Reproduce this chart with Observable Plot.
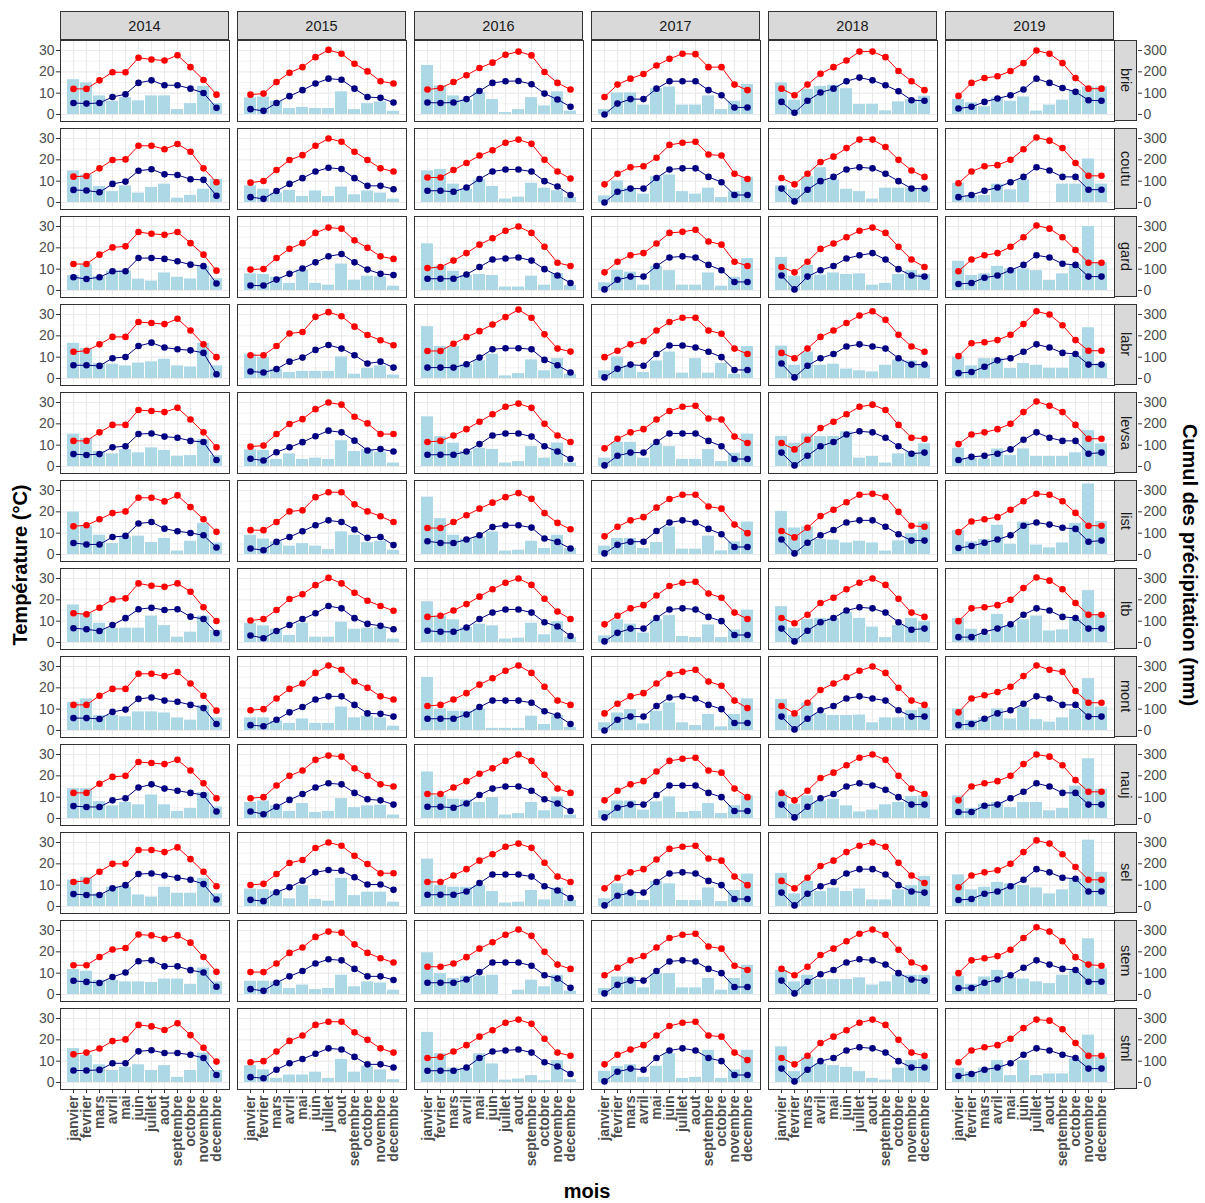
<!DOCTYPE html>
<html><head><meta charset="utf-8">
<script src="https://cdn.jsdelivr.net/npm/d3@7"></script>
<script src="https://cdn.jsdelivr.net/npm/@observablehq/plot@0.6"></script>
<style>
body{margin:0;background:#fff;font-family:"Liberation Sans",Arial,sans-serif;}
#chart{position:relative;width:1205px;height:1203px;background:#fff;overflow:hidden;}
.strip{position:absolute;box-sizing:border-box;background:#d9d9d9;border:1px solid #333;color:#1a1a1a;font-size:14.5px;display:flex;align-items:center;justify-content:center;}
.vstrip{writing-mode:vertical-rl;}
.title{position:absolute;font-weight:bold;font-size:20px;color:#000;white-space:nowrap;}
svg{position:absolute;overflow:visible;}
</style></head><body><div id="chart"></div>
<script>
const years = [2014, 2015, 2016, 2017, 2018, 2019];
const stations = ["brie","coutu","gard","labr","levsa","list","ltb","mont","nauj","sel","stem","stml"];
const months = ["janvier","fevrier","mars","avril","mai","juin","juillet","aout","septembre","octobre","novembre","decembre"];

// Each array: one row per year (2014..2019), 12 monthly values
const brie_tmax = [
[12,12,16,19.8,19.8,26.6,25.8,25.3,27.8,22.2,16.2,9.3],
[9.3,9.8,15.2,19.6,22.2,26.9,30.3,28.5,23.8,20.2,15.6,14.5],
[11.7,12.4,15.2,18.4,21.8,24.3,28,29.5,27.7,19.9,14.8,11.7],
[8.2,14,16.8,19,23,26.1,28.5,28.3,22.2,22.2,14,11.4],
[12.1,9,14,19.1,22.2,25.3,29.5,29.5,26.9,20.4,15.6,11.4],
[8.7,14.8,17.1,17.9,20.4,24.1,30,28.5,24.1,17.1,12.1,12.1]];
const brie_tmin = [
[5.4,5.1,5.4,8.2,9.5,14.8,16,13.7,13.7,12.1,10.1,3.1],
[2.5,1.7,5.4,8.6,11.4,14.5,16.8,16.3,12.1,8.2,7.8,5.6],
[5.6,5.4,5.6,7.2,11,14.8,15.6,15.7,14.2,9.8,7,3.6],
[0,5.1,7.2,7.2,12.1,15.6,15.6,15.6,11.4,9,3.3,3.3],
[5.9,0.8,6.4,10.3,12.1,15.6,17.3,16,13.7,10.9,6.7,6.4],
[2.8,3.6,5.9,7.5,9,11.7,16.8,14.8,12.4,10.6,6.7,6.4]];
const brie_precip = [
[163,148,87,62,79,64,87,87,23,51,132,51],
[78,82,62,28,33,28,28,106,23,51,59,15],
[230,134,87,67,103,70,9,23,79,40,106,16],
[23,101,101,44,121,129,44,44,87,23,62,141],
[148,67,118,132,137,121,47,48,17,59,70,86],
[70,55,36,78,62,82,16,44,67,113,129,129]];

const coutu_tmax = [
[12.1,12.4,16,19.9,20.2,26.6,26.6,25,27.4,23.8,16,9.5],
[9.3,10.1,15.2,19.9,22.2,26.6,30,28.5,23.8,19.9,16,14.5],
[11.7,11.7,15.2,18.5,22,24.5,28,29.5,27.5,20,14.5,11.2],
[8.5,13.5,16.5,17,21,27,28,28.5,22.5,22,13.5,11],
[11.5,8.5,13.5,19,21.5,25.5,29.5,29.5,26,20,15,12],
[9,14.5,17,17.5,20,25,30.5,29,25.5,18.5,12.5,12.5]];
const coutu_tmin = [
[5.9,5.6,4.8,8.7,9.8,14.9,15.6,13.2,12.9,10.9,10.6,3.1],
[2.5,1.7,5.4,8.7,11.4,14.5,16.3,15.7,11.4,7.8,7.8,6.2],
[5.5,5.5,5,7,11,14.5,15.5,15.5,14.5,10,7.5,3.5],
[0,5,6.5,6.5,11.5,15.5,16,16,12,9.5,3.5,3.5],
[6.5,0.5,6,10,12,15.5,16.5,16,13.5,10,6.5,6.5],
[2.5,3.5,5.5,7,9.5,12,16.5,15,12,12,6,6]];
const coutu_precip = [
[148,129,75,51,78,44,70,86,20,33,62,109],
[78,62,44,56,28,54,28,72,36,54,44,16],
[148,155,86,62,106,75,16,25,90,67,55,23],
[31,101,67,39,121,129,51,39,67,23,51,118],
[78,59,121,163,106,62,51,16,67,67,67,67],
[90,31,33,86,59,106,0,0,86,86,204,86]];

const gard_tmax = [
[12.4,12.4,16.8,20.2,20.7,27.4,26.6,26.1,27.4,22.2,16.8,9.3],
[9.8,10.1,15.2,19.6,22.2,27,29.5,29,23.5,20,16,14.8],
[10.5,11,14,17.5,21.5,24.5,28,30,27,20.5,13,11.5],
[8.5,13.5,16.5,17.5,22,27,27.5,28.5,23,21.5,13.5,11.5],
[11,8.5,13.5,19.5,22,25,28,29.5,27,20.5,14.5,11],
[9,14.5,16.5,17.5,20.5,25,30.5,29,25,19,13,13]];
const gard_tmin = [
[6.2,5.4,6.2,9,9,15.2,15.2,14.8,13.7,12.1,11.4,3.3],
[2.3,2.3,5.1,7.8,10.3,13.2,16,17.1,13.2,9.8,7.8,7.2],
[5.5,5.5,5.5,7.5,11,14.5,15,15.5,14,10,7,3.5],
[0.5,5,6.5,6.5,11.5,15.5,16,15.5,12,9.5,4,4],
[7,0.5,6.5,9.5,11.5,15,16.5,17.5,14.5,10,7,6.5],
[3,3.5,6,7,9.5,12,16.5,15.5,12.5,12,6.5,6.5]];
const gard_precip = [
[70,120,65,90,92,53,44,82,62,54,113,55],
[78,75,62,33,95,33,25,124,48,67,64,20],
[219,113,90,70,75,70,16,16,67,25,79,23],
[36,95,86,25,113,93,25,25,82,20,62,150],
[155,67,117,72,82,75,78,25,33,75,93,75],
[137,70,78,113,101,101,93,47,78,120,300,130]];

const labr_tmax = [
[12.5,13,16,19.5,19.5,26.5,26,25.5,28,22.5,16,10],
[10.9,10.9,15.2,21.1,21.8,28.9,31.1,29.2,24.3,20.4,17.9,15.6],
[12.9,12.9,16.3,19.4,22.2,25.3,28.8,32.3,28.5,20.7,14,12.6],
[10,13,16,17.5,22.5,26.5,28.5,28.5,22.5,21,14,11.5],
[12,9.5,14,19.5,22.5,26,29.5,31.5,27.5,20.5,15,12.5],
[10.5,16.5,17,18,20.5,25.5,31.5,30,25,18,13,13]];
const labr_tmin = [
[6.2,6.2,5.9,9.5,10.1,15.2,16.8,14.5,13.7,13.2,12,2],
[3.3,2.8,4.4,7.9,9.8,13.4,15.7,14,10.9,7,7.9,5.1],
[5.1,5.1,5.1,6.7,9.8,13.7,14.2,14.2,13.7,8.7,6.2,2.8],
[0.5,4.5,6.5,6,11.5,15.5,15.5,14.5,12.5,10,4,4],
[7,0.5,6,9.5,11.5,15,16,15,14,9.5,6.5,6.5],
[2.5,3,5.5,8.5,9.5,12.5,16,14.5,12,11.5,6.5,6.5]];
const labr_precip = [
[165,141,70,67,59,72,78,90,59,54,165,59],
[114,98,44,28,33,33,33,101,20,48,59,16],
[243,150,150,67,83,114,12,23,87,36,93,20],
[36,101,62,28,82,124,25,93,25,70,20,150],
[152,62,124,62,67,44,36,31,62,87,82,62],
[101,59,93,93,47,70,62,48,48,106,238,70]];

const levsa_tmax = [
[12,12,16,19.5,19.5,26.5,26,25.5,27.5,22,16,9],
[9.3,9.8,15.2,19.9,22.2,26.9,30,29,23.3,20.2,15.2,15.2],
[11.5,12,14.5,17.5,21,24.5,28,29.5,27.5,20,14.5,11.5],
[8.5,13,16,17.5,22,26,28,28.5,22.5,22,14,11],
[11,8,12.5,18,21,24.5,28,29,26.5,19.5,13.5,13],
[10.5,15,16,17.5,20,25.5,30.5,28.5,25.5,19.5,13,13]];
const levsa_tmin = [
[5.8,5.4,5.8,9,9.5,15.2,15.5,14,13.5,12,11.5,3],
[3.6,2.8,6.7,9,11.4,14.2,16.8,16,12.1,7.5,8.2,7],
[5.5,5.5,5.5,7,10.5,14.5,15.5,15.5,14,9.5,7,3.5],
[0.5,5,6.5,6.5,11.5,15.5,15.5,15.5,12,9.5,3.5,3.5],
[6.5,0.5,5,9.5,11.5,15,16.5,16,13.5,9.5,6,6.5],
[3,4.5,5,6,8,12.5,16,13.5,12,12,6,6.5]];
const levsa_precip = [
[152,132,70,59,79,64,87,75,48,51,126,51],
[78,75,33,59,33,39,33,121,70,79,67,16],
[233,140,109,70,86,80,16,23,93,39,110,16],
[39,113,113,39,106,93,33,33,79,23,62,152],
[141,109,152,140,141,163,39,47,16,59,67,106],
[86,36,36,82,51,82,47,47,47,64,168,106]];

const list_tmax = [
[13.2,13.7,16.5,19.4,20.2,26.6,26.6,24.9,27.7,22.2,16.5,10.6],
[11.4,11.4,15.2,20.2,20.7,26.9,29.2,29.2,23.5,20.2,17.9,15.2],
[12.4,12.4,15.2,18.4,21.5,24.3,26.9,28.8,26.1,19.4,14.8,11.8],
[8.5,13,16,17.5,22,26,28,28,22.5,21.5,14,10],
[11,8,12.5,18,21,24.5,28,28.5,27,20,13.5,13],
[10.5,15.5,16.5,17.5,21,25,28.5,28,25,19.5,13.5,13.5]];
const list_tmin = [
[5.4,4.7,4.7,8.2,8.7,14.5,15.2,12.1,10.9,10.1,9,3.3],
[2.8,2,5.9,8.2,10.9,13.7,16,15.2,11.7,7.8,8.2,4.4],
[6.2,5.4,5.4,7,9,12.9,13.7,13.7,12.6,7.5,5.9,2.8],
[0.5,4.5,6,6,11,15,16,15,12,9.5,3.5,3.5],
[7,0.5,5.5,9,11.5,15,16,16,13,9.5,6.5,6.5],
[3,4,5.5,7,9,13.5,15,14,12.5,12,6,6.5]];
const list_precip = [
[199,134,90,51,82,86,56,75,16,62,145,54],
[90,72,59,39,51,39,23,106,90,56,62,20],
[269,168,90,72,82,106,16,20,62,28,90,28],
[39,75,75,28,56,129,25,25,86,17,59,152],
[202,124,129,70,67,54,62,54,16,64,98,152],
[113,59,70,137,48,152,44,31,54,145,331,155]];

const ltb_tmax = [
[13.7,13.2,16.3,20.2,20.7,27.7,26.6,26.1,27.7,23.8,16.5,10.1],
[10.3,11,15.2,20.4,22.6,26.9,30.3,27.7,23.3,19.6,17.1,14.9],
[12,12.5,15,18,21.5,25,28,30,27,20.5,14.5,11],
[8.5,12.5,16,17.5,22,26.5,28,28.5,23,21,14,11],
[11.5,9,13,18.5,21,25,28,30,27,20.5,14,12],
[10,16,16.5,17.5,20,25.5,30.5,29,25,18.5,13,13]];
const ltb_tmin = [
[6.7,6.2,5.4,8.2,11.4,15.6,16.3,15.2,15.6,12.1,11,4.4],
[3.3,2,5.4,8.2,11,13.7,17.1,16,11.4,8.7,7.8,6.2],
[5.5,5,5,7,11,14,15.5,15.5,14,9.5,7.5,3],
[0.5,4.5,6.5,6.5,11.5,15.5,16,15.5,12,10,3.5,3.5],
[6.5,0.5,5.5,9.5,11.5,15,16.5,16,14,9.5,6,6.5],
[2.5,2.5,5,6.5,8.5,13,16,15,12,11.5,6.5,6.5]];
const ltb_precip = [
[176,137,90,67,67,67,124,79,25,48,124,56],
[90,78,62,33,90,25,25,95,62,67,70,16],
[191,124,106,70,86,78,16,20,90,36,98,23],
[31,106,86,44,106,126,28,23,82,23,59,152],
[168,67,109,113,113,140,113,72,23,79,113,98],
[113,62,39,132,78,106,124,54,59,110,243,129]];

const mont_tmax = [
[12,12,16.3,19.5,19.5,26.6,26.6,25.5,27.4,22,16.3,9.3],
[9.5,10,15,19.5,22,27,30.5,28.5,23,20,16,14.5],
[11.5,12,14.5,17.5,21.5,24.5,28,30.5,27,20.5,14,12],
[8,12.5,16,17.5,22,26.5,27.5,28.5,23,21,14,10.5],
[11.5,8,13,19,22,25,28,30,27,20,14,12],
[8.5,15,16.5,18,20.5,25.5,30.5,28.5,27.5,18.5,13,13]];
const mont_tmin = [
[5.8,5.8,5.4,8.7,9.8,14.8,15.5,14,13.5,12,10.5,3],
[2.5,2,5,8.5,11,14.5,16,16,12,8,7.8,6.5],
[5.5,5.5,5.5,7.5,11,14,14,14,13,9,7,3],
[0,5,6.5,6.5,11.5,15.5,16,15,12,10,3.5,3.5],
[6.5,0.5,5.5,9.5,11.5,15,16,15,14,9.5,6.5,6.5],
[2.5,3,5.5,8,9.5,12.5,16,15,12,12,6.5,6.5]];
const mont_precip = [
[132,148,70,70,64,87,87,82,59,48,117,59],
[59,59,44,33,54,33,33,110,59,67,59,20],
[249,100,90,90,100,10,10,10,67,28,70,15],
[36,82,98,31,90,129,36,23,75,17,75,148],
[145,70,129,78,70,70,72,36,59,59,93,106],
[101,47,59,101,54,106,51,39,59,98,243,110]];

const nauj_tmax = [
[12,12,16.3,19.5,20,26.5,26,25.5,27.5,22.5,16.5,9.5],
[9.5,10,15.5,20,22.5,27.5,29.5,29,23.5,20,16,15],
[11.5,11.5,14.5,17.5,21,23.5,27,30,27,20.5,14,12],
[8.5,13,16,17.5,22,27,28,28.5,22.5,21.5,14,10],
[12,8.5,13,19,21.5,25,28.5,30,27.5,20,14,11.5],
[8.5,15,16.5,17.5,20,25.5,30,29,25,18,12.5,12.5]];
const nauj_tmin = [
[5.8,5.4,5.4,8.5,9.5,14.5,16,14,13,12,11,3.3],
[3.3,2,5.5,8.7,11.5,14.5,16.5,16,12,9,8.5,6.5],
[5.5,5.5,5,7,11,14,15,15,13,9,7,3.5],
[0.5,5,6.5,6.5,11,15.5,15.5,15.5,12,10,3.5,3.5],
[6.5,0.5,5.5,9.5,11.5,15,16.5,15.5,13.5,10,6.5,6.5],
[3,3,6,6.5,9.5,12.5,16.5,15,12,12,6.5,6.5]];
const nauj_precip = [
[140,140,79,59,75,64,110,64,33,47,121,54],
[75,82,59,33,70,28,33,93,51,59,62,16],
[218,106,90,87,75,98,16,23,75,36,101,16],
[36,82,82,39,78,101,28,33,70,23,60,106],
[124,67,106,82,90,59,31,39,64,75,103,106],
[106,47,67,75,51,75,75,36,47,152,280,137]];

const sel_tmax = [
[11.5,12,16.3,20,20,26.5,26.5,25.5,27.7,22.2,16.3,9.5],
[10.1,10.6,15.2,20.4,21.8,27.4,30,28.5,23.8,19.9,15.6,15.6],
[11.5,11.5,14.5,17.5,21.5,24.5,28,29.5,27.5,20.5,14,11.5],
[8.5,13.5,16,17.5,22,27,28,28.5,22.5,21.5,14,10],
[12,8.5,13.5,19,21.5,25.5,28.5,30,28,20.5,14.5,11],
[9,14.5,16,17,20,25.5,31,29.5,24.5,18.5,12.5,12.5]];
const sel_tmin = [
[5.8,5.4,5.4,8.5,10,15.2,15.5,14.5,13.5,12.5,10.5,3.3],
[3.1,2.5,6.7,9,12.1,16,17.1,16.8,13.7,10.3,10.3,7.8],
[5.5,5.5,5.5,7,11,15,15,15,14,9.5,7.5,4],
[0.5,5,6.5,6.5,11.5,15.5,16,15.5,12,10,3.5,3.5],
[6.5,0.5,6,9.5,11.5,15.5,17.5,17.5,15,10,7,6.5],
[3,3.5,6,7,9.5,12.5,17.5,16,13.5,13,7,7]];
const sel_precip = [
[124,137,59,90,90,54,44,90,62,62,132,59],
[82,79,70,36,98,33,25,132,51,67,67,20],
[222,98,90,90,98,70,16,20,75,31,86,28],
[36,106,70,28,117,106,28,28,87,23,75,152],
[155,59,117,70,86,70,82,31,31,78,98,141],
[148,78,90,113,106,98,87,59,78,129,311,160]];

const stem_tmax = [
[13.7,13.7,17.6,21.1,21.8,28.1,27.7,26.1,27.7,24.3,17.6,10.6],
[10.5,10.5,14.5,19.5,22,27,29.5,29,23.5,19.5,17,15],
[13,13,14.5,17.5,21.5,24.5,28,30.5,27.5,20,14,12],
[9,12.5,16,18,22,26.5,28,28.5,22.5,21.5,13.5,11.5],
[12,9,13,18.5,21.5,25,28.5,30.5,28,21,15,12.5],
[10,16,17,18,21,26.5,31.5,29.5,25,17.5,14,13.5]];
const stem_tmin = [
[6.4,5.9,5.4,8.2,10.3,15.6,16,13.2,13.2,11.4,10.3,3.6],
[2.5,1.7,5.5,8.5,11,14.5,16.5,16,12,8.5,8.5,6.8],
[5.5,5.5,5.5,7,10.5,15,15,15,13.5,9,7.5,3.1],
[0.5,4.5,6.5,6.5,11,15.5,16,15.5,12,10,3.5,3.5],
[6.5,0.5,6,9.5,11.5,15,16.5,16,14,10,7,6.5],
[3,3,5.5,7,9,12.5,16,14,12,11.5,6,6]];
const stem_precip = [
[117,109,67,67,59,59,56,72,72,47,124,59],
[62,62,59,28,44,23,28,90,36,59,54,20],
[196,98,75,86,86,90,0,20,67,36,90,16],
[28,82,82,31,98,98,31,31,75,20,75,137],
[113,59,90,70,70,70,78,44,59,90,90,90],
[86,47,82,113,78,72,59,51,90,110,261,121]];

const stml_tmax = [
[13.2,14,15.9,19.4,20.2,27,26.3,24.6,27.8,22.2,16.3,9.8],
[9.5,10,14.5,19.5,22,27,28.5,28.5,23.5,20,16,14],
[11.5,12,14.5,17.5,21.5,24.5,28,29.5,27.5,20.5,14,12.5],
[8.5,13,15.5,17.5,22,26.5,28,28.5,22,21.5,14,10.5],
[11.5,8.5,12.5,18.5,21.5,24.5,28,29.5,27,20,14,12.5],
[9.5,15,16.5,17.5,20.5,25.5,29.5,29,25,18.5,12.5,12.5]];
const stml_tmin = [
[5.6,5.6,5.9,9,9,14.6,15.1,13.8,13.8,13,11.5,3.5],
[2.5,2,6,9,11,13.5,16,15.5,12,8.5,8.5,7],
[5.5,5.5,5.5,7,11.5,14.5,15,15.5,14,9.5,7.5,4],
[0.5,5,6.5,6,11.5,15,16,15,11.5,10,3.5,3.5],
[6.5,0.5,6,10,11.5,15,16.5,16,14,10,7,7],
[3,4,6,7,9,13,16,15,13,11.5,6.5,6.5]];
const stml_precip = [
[159,127,83,56,71,83,56,79,24,56,138,56],
[79,59,19,35,35,48,19,108,48,76,59,13],
[235,135,67,67,135,87,11,16,32,8,103,13],
[52,75,83,24,76,135,19,24,151,19,59,151],
[167,51,119,87,79,71,51,19,11,67,103,108],
[67,48,67,103,32,103,32,40,40,111,222,119]];

const tmaxByStation = {brie:brie_tmax,coutu:coutu_tmax,gard:gard_tmax,labr:labr_tmax,levsa:levsa_tmax,list:list_tmax,ltb:ltb_tmax,mont:mont_tmax,nauj:nauj_tmax,sel:sel_tmax,stem:stem_tmax,stml:stml_tmax};
const tminByStation = {brie:brie_tmin,coutu:coutu_tmin,gard:gard_tmin,labr:labr_tmin,levsa:levsa_tmin,list:list_tmin,ltb:ltb_tmin,mont:mont_tmin,nauj:nauj_tmin,sel:sel_tmin,stem:stem_tmin,stml:stml_tmin};
const precipByStation = {brie:brie_precip,coutu:coutu_precip,gard:gard_precip,labr:labr_precip,levsa:levsa_precip,list:list_precip,ltb:ltb_precip,mont:mont_precip,nauj:nauj_precip,sel:sel_precip,stem:stem_precip,stml:stml_precip};

// layout
const PANEL_W = 169, PANEL_H = 81, PITCH_X = 177, PITCH_Y = 88, X0 = 60, Y0 = 40;
const yDomain = [-3.3, 34.7];
const chart = document.getElementById("chart");
const font = '"Liberation Sans", Arial, sans-serif';

function place(el, left, top) { el.style.left = left + "px"; el.style.top = top + "px"; chart.appendChild(el); }

stations.forEach((st, r) => {
  years.forEach((yr, c) => {
    const rows = months.map((m, i) => ({
      mois: m,
      tmax: tmaxByStation[st][c][i],
      tmin: tminByStation[st][c][i],
      pluie: precipByStation[st][c][i] / 10
    }));
    const ml = c === 0 ? 60 : 0;
    const mb = r === stations.length - 1 ? 100 : 0;
    const marks = [
      Plot.gridY([5, 15, 25], {stroke: "#ebebeb", strokeOpacity: 1, strokeWidth: 0.6}),
      Plot.gridY([0, 10, 20, 30], {stroke: "#ebebeb", strokeOpacity: 1, strokeWidth: 1.1}),
      Plot.gridX(months, {stroke: "#ebebeb", strokeOpacity: 1, strokeWidth: 1.1}),
      Plot.barY(rows, {x: "mois", y: "pluie", fill: "#add8e6"}),
      Plot.line(rows, {x: "mois", y: "tmax", stroke: "red", strokeWidth: 1}),
      Plot.dot(rows, {x: "mois", y: "tmax", fill: "red", r: 3.3}),
      Plot.line(rows, {x: "mois", y: "tmin", stroke: "navy", strokeWidth: 1}),
      Plot.dot(rows, {x: "mois", y: "tmin", fill: "navy", r: 3.3}),
      Plot.frame({stroke: "#333", strokeWidth: 1})
    ];
    if (c === 0) marks.push(Plot.axisY({anchor: "left", ticks: [0, 10, 20, 30], tickSize: 4, tickPadding: 2, label: null, stroke: "#333", fill: "#4d4d4d", fontSize: 14}));
    if (mb) marks.push(Plot.axisX({anchor: "bottom", tickRotate: -90, tickSize: 4, tickPadding: 2, label: null, stroke: "#333", fill: "#4d4d4d", fontSize: 14, fontWeight: "bold"}));
    const svg = Plot.plot({
      width: PANEL_W + ml, height: PANEL_H + mb,
      marginLeft: ml, marginRight: 0, marginTop: 0, marginBottom: mb,
      x: {type: "band", domain: months, paddingInner: 0.1, paddingOuter: 0.15, align: 0.5, axis: null},
      y: {domain: yDomain, axis: null},
      style: {fontFamily: font, fontSize: "14px", color: "#4d4d4d", background: "transparent", overflow: "visible"},
      marks
    });
    place(svg, X0 + PITCH_X * c - ml, Y0 + PITCH_Y * r);
  });
  // right secondary axis (precipitation, mm)
  const ax = Plot.plot({
    width: 45, height: PANEL_H, marginLeft: 0, marginRight: 45, marginTop: 0, marginBottom: 0,
    y: {domain: yDomain, axis: null},
    style: {fontFamily: font, fontSize: "14px", color: "#4d4d4d", background: "transparent", overflow: "visible"},
    marks: [Plot.axisY({anchor: "right", ticks: [0, 10, 20, 30], tickFormat: d => String(d * 10), tickSize: 4, tickPadding: 2, label: null, stroke: "#333", fill: "#4d4d4d", fontSize: 14})]
  });
  place(ax, 1137, Y0 + PITCH_Y * r);
  // right strip
  const s = document.createElement("div");
  s.className = "strip vstrip";
  s.textContent = st;
  s.style.width = "23px"; s.style.height = PANEL_H + "px";
  place(s, X0 + PITCH_X * 5 + PANEL_W, Y0 + PITCH_Y * r);
});

years.forEach((yr, c) => {
  const s = document.createElement("div");
  s.className = "strip";
  s.textContent = yr;
  s.style.width = PANEL_W + "px"; s.style.height = "29px";
  place(s, X0 + PITCH_X * c, 11);
});

function title(text, cx, cy, rot) {
  const d = document.createElement("div");
  d.className = "title";
  d.textContent = text;
  d.style.transform = `translate(-50%,-50%) rotate(${rot}deg)`;
  place(d, cx, cy);
}
title("Température (°C)", 20, 565, -90);
title("Cumul des précipitation (mm)", 1189, 565, 90);
title("mois", 587, 1191, 0);
</script></body></html>
